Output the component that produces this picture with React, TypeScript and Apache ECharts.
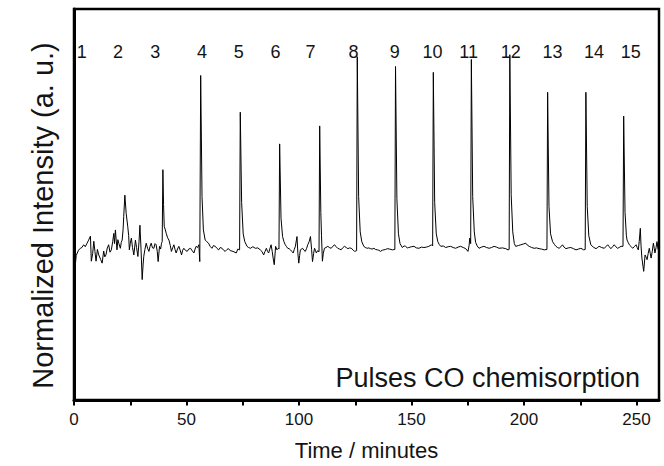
import React, { useEffect, useRef } from "react";
import * as echarts from "echarts";

// x tick labels (minutes) and axis range
const xTickStep = 25;
const xLabelStep = 50;
const xMax = 260;

// pulse labels across the top
const pulseLabels = ["1", "2", "3", "4", "5", "6", "7", "8", "9", "10", "11", "12", "13", "14", "15"];
const pulseLabelTimes = [3.4, 19.6, 36.1, 56.9, 73.2, 89.5, 105.1, 124.2, 142.5, 159.3, 175.4, 194.1, 212.7, 231.1, 247.5];
const pulseLabelLevel = 89.1;

// trace segments: [time (min), normalized intensity (a.u.)]
const traceStart: number[][] = [
  [0.4, 33.5], [1.0, 37.0], [2.0, 38.3], [2.8, 38.8], [3.5, 39.0], [4.3, 39.7], [5.0, 39.2], [5.8, 40.1],
  [6.5, 40.9], [7.3, 41.9], [7.7, 35.5], [8.3, 37.5], [8.8, 40.6], [9.3, 38.0], [9.8, 35.5], [10.4, 38.5],
  [11.0, 37.1], [11.8, 36.0], [12.5, 35.0], [13.2, 38.1], [13.7, 36.6], [14.2, 37.1], [14.8, 38.9], [15.4, 39.7],
  [16.0, 37.8], [16.6, 38.4], [17.2, 40.5], [17.7, 42.6], [18.0, 40.0], [18.4, 43.5], [19.1, 38.4], [19.5, 41.0],
  [19.9, 40.1], [20.6, 38.8], [21.0, 40.3], [21.4, 40.9], [21.8, 43.5], [22.1, 46.9], [22.6, 52.4], [23.2, 47.7],
  [23.9, 44.3], [24.3, 42.0], [24.6, 38.4], [25.0, 40.0], [25.5, 41.4], [26.0, 39.0], [26.6, 37.1], [27.3, 40.9],
  [27.8, 39.0], [28.4, 36.7], [28.9, 40.5], [29.3, 44.7], [29.8, 38.4], [30.3, 30.8], [30.7, 34.5], [31.0, 36.7],
  [31.5, 38.5], [32.1, 40.1], [32.7, 38.8], [33.3, 38.0], [33.8, 39.3], [34.3, 40.1], [34.9, 38.9], [35.5, 38.8],
  [36.0, 40.0], [36.5, 39.7], [37.0, 38.0], [37.4, 35.4], [38.0, 39.3], [38.5, 38.6], [38.9, 40.1], [39.2, 40.5],
];
const pulses3to4: number[][] = [
  [39.5, 58.9], [39.8, 50.0], [40.1, 44.4], [40.6, 43.5], [41.0, 42.6], [41.6, 41.5], [42.2, 40.9], [42.8, 39.5],
  [43.3, 38.0], [43.9, 39.0], [44.4, 39.7], [44.9, 38.5], [45.4, 37.6], [46.0, 38.6], [46.6, 39.3], [47.2, 38.3],
  [47.8, 37.1], [48.3, 38.3], [48.8, 38.8], [49.5, 38.3], [50.3, 38.0], [51.0, 38.6], [51.8, 38.8], [52.5, 38.2],
  [53.3, 37.6], [53.8, 38.6], [54.3, 39.3], [54.9, 39.0], [55.5, 39.7], [55.9, 35.4],
  [56.3, 83.0], [56.9, 52.0], [57.5, 43.5], [58.3, 40.9], [59.0, 40.5], [59.8, 40.1], [60.5, 39.3], [61.3, 38.8],
  [62.0, 39.5], [62.8, 39.3], [63.5, 38.8], [64.3, 38.4], [65.0, 39.0], [65.8, 38.8], [66.5, 38.3], [67.2, 38.0],
  [68.0, 38.5], [68.7, 38.7], [69.4, 38.2], [70.2, 38.1], [71.1, 37.9], [72.1, 37.6], [72.8, 38.6], [73.6, 38.4],
];
const pulses5to7: number[][] = [
  [73.9, 73.6], [74.5, 50.5], [75.2, 42.5], [75.9, 40.5], [76.9, 39.3], [77.6, 39.0], [78.4, 38.8], [79.5, 39.2],
  [80.6, 38.8], [81.7, 38.9], [82.8, 38.4], [83.5, 38.0], [84.3, 37.1], [84.9, 38.0], [85.5, 38.8], [86.0, 38.0],
  [86.5, 37.6], [87.0, 38.6], [87.6, 39.7], [88.1, 38.0], [88.5, 36.3], [89.0, 34.6], [89.6, 39.3], [90.2, 38.4],
  [90.8, 38.8], [91.1, 38.6],
  [91.4, 65.5], [92.0, 46.5], [92.7, 41.8], [93.3, 40.5], [93.9, 39.7], [94.5, 39.2], [95.0, 38.8], [95.6, 38.7],
  [96.2, 38.4], [96.8, 38.0], [97.4, 37.6], [97.9, 38.5], [98.4, 39.3], [99.1, 41.8], [99.5, 37.5], [99.9, 35.0],
  [100.3, 37.0], [100.6, 38.4], [101.6, 38.8], [102.2, 38.3], [102.8, 38.0], [103.4, 38.8], [103.9, 39.7], [104.5, 40.5],
  [105.1, 41.8], [105.6, 38.5], [106.0, 35.4], [106.5, 37.5], [106.9, 38.8], [107.3, 38.3], [107.7, 37.6], [108.3, 38.2],
  [108.9, 37.9],
  [109.2, 70.1], [109.7, 48.0], [110.0, 42.0], [110.4, 35.5], [110.8, 37.5], [111.3, 38.8], [112.0, 39.0], [112.8, 39.3],
  [113.5, 39.0], [114.3, 38.8], [115.0, 39.3], [115.8, 39.7], [116.5, 39.2], [117.2, 38.8], [118.0, 38.6], [118.7, 38.4],
  [119.4, 38.9], [120.2, 39.3], [121.0, 39.0], [121.7, 38.7], [122.5, 38.9], [123.2, 38.8], [124.0, 38.4], [124.7, 38.0],
  [125.6, 38.2],
];
const pulses8to10: number[][] = [
  [125.9, 87.8], [126.5, 52.0], [127.2, 43.0], [127.9, 40.5], [128.8, 39.3], [129.5, 39.0], [130.3, 38.8], [131.0, 38.9],
  [131.8, 38.7], [132.5, 38.6], [133.3, 38.8], [134.0, 38.5], [134.8, 38.4], [135.5, 38.3], [136.2, 38.0], [137.0, 38.3],
  [137.7, 38.4], [138.5, 38.5], [139.2, 38.7], [140.3, 38.6], [141.5, 38.4], [142.6, 38.5],
  [142.9, 85.3], [143.5, 51.5], [144.2, 42.5], [144.9, 40.0], [145.9, 39.0], [146.7, 39.4], [147.4, 39.3], [148.1, 38.9],
  [148.8, 39.0], [150.0, 39.2], [151.1, 39.3], [152.2, 38.9], [153.3, 38.8], [154.4, 39.1], [155.5, 39.0], [156.6, 39.1],
  [157.7, 39.3], [158.9, 39.7], [159.4, 39.4],
  [159.7, 83.8], [160.3, 50.5], [161.0, 42.5], [161.7, 40.5], [162.3, 39.8], [163.0, 39.3], [164.1, 39.4], [165.2, 39.0],
  [166.3, 39.2], [167.4, 39.3], [168.5, 39.0], [169.6, 38.8], [170.7, 39.1], [171.8, 39.3], [173.0, 39.0], [174.1, 38.7],
  [175.1, 38.0], [175.6, 39.5], [175.9, 41.4], [176.3, 40.0],
];
const pulses11to13: number[][] = [
  [176.6, 87.1], [177.2, 52.0], [177.9, 43.0], [178.5, 40.3], [179.2, 39.4], [180.0, 38.8], [181.1, 39.1], [182.2, 39.3],
  [183.4, 39.0], [184.5, 38.8], [185.6, 39.0], [186.7, 39.3], [187.8, 39.1], [188.9, 38.8], [190.4, 38.9], [191.9, 38.7],
  [192.9, 38.4], [193.4, 38.5],
  [193.7, 88.3], [194.3, 52.5], [195.0, 43.0], [195.7, 40.0], [196.3, 39.3], [197.5, 39.5], [198.6, 39.7], [199.7, 39.9],
  [200.8, 40.1], [201.5, 39.6], [202.3, 39.3], [203.4, 39.0], [204.5, 38.8], [205.6, 38.9], [206.7, 38.7], [207.8, 38.6],
  [209.0, 38.4], [210.2, 38.5],
  [210.5, 78.7], [211.1, 49.5], [211.8, 42.5], [212.7, 40.5], [213.5, 39.8], [214.2, 39.3], [214.9, 39.0], [215.6, 38.8],
  [216.4, 39.2], [217.1, 39.7], [217.8, 39.1], [218.6, 38.7], [219.7, 38.9], [220.8, 39.0], [222.0, 38.7], [223.1, 38.4],
  [224.2, 38.6], [225.3, 38.8], [226.5, 38.4], [227.2, 38.5],
];
const pulses14to15: number[][] = [
  [227.5, 78.7], [228.1, 49.5], [228.8, 42.0], [229.7, 39.7], [230.8, 39.1], [232.0, 38.7], [232.7, 39.0], [233.4, 39.3],
  [234.5, 39.0], [235.7, 38.8], [236.5, 39.3], [237.2, 39.7], [237.9, 39.2], [238.6, 38.7], [239.4, 39.2], [240.1, 39.7],
  [240.8, 39.2], [241.6, 38.8], [242.3, 39.0], [243.1, 39.3], [244.0, 39.3],
  [244.3, 72.6], [244.9, 48.0], [245.5, 42.0], [245.8, 40.9], [246.3, 40.3], [246.8, 39.7], [247.5, 39.3], [248.3, 38.8],
  [249.0, 39.2], [249.8, 39.7], [250.3, 39.0], [250.8, 38.4], [251.2, 40.5], [251.7, 43.9], [252.0, 39.5], [252.4, 36.3],
  [253.2, 32.9], [253.8, 37.1], [254.3, 36.5], [254.7, 35.9], [255.2, 37.5], [255.7, 38.8], [256.1, 37.5], [256.5, 36.3],
  [257.0, 38.0], [257.5, 40.1], [257.9, 38.8], [258.2, 37.6], [258.7, 39.0], [259.1, 40.5], [259.6, 38.5],
];

const FONT = "'Liberation Sans', Arial, Helvetica, sans-serif";
const INK = "#141414";

export default function App() {
  const ref = useRef<HTMLDivElement>(null);
  useEffect(() => {
    if (!ref.current) return;
    const chart = echarts.init(ref.current, null, { renderer: "svg" });
    const trace = [
      ...traceStart,
      ...pulses3to4,
      ...pulses5to7,
      ...pulses8to10,
      ...pulses11to13,
      ...pulses14to15,
    ];
    const labelData = pulseLabels.map((name, i) => ({
      name,
      value: [pulseLabelTimes[i], pulseLabelLevel],
    }));
    chart.setOption({
      animation: false,
      backgroundColor: "#ffffff",
      grid: {
        left: 74,
        right: 5,
        top: 9,
        bottom: 63,
        show: true,
        borderColor: "#000",
        borderWidth: 2.5,
        backgroundColor: "transparent",
      },
      xAxis: {
        type: "value",
        min: 0,
        max: xMax,
        interval: xTickStep,
        name: "Time / minutes",
        nameLocation: "middle",
        nameGap: 39,
        nameTextStyle: { fontSize: 22, color: INK, fontFamily: FONT },
        axisLine: { show: true, lineStyle: { color: "#000", width: 3 } },
        axisTick: { show: true, inside: false, length: 5.5, lineStyle: { color: "#000", width: 2 } },
        axisLabel: {
          fontSize: 17,
          color: INK,
          fontFamily: FONT,
          margin: 11,
          showMaxLabel: false,
          formatter: (v: number) => (v % xLabelStep === 0 ? String(v) : ""),
        },
        splitLine: { show: false },
      },
      yAxis: {
        type: "value",
        min: 0,
        max: 100,
        axisLine: { show: true, lineStyle: { color: "#000", width: 3 } },
        axisTick: { show: false },
        axisLabel: { show: false },
        splitLine: { show: false },
      },
      graphic: [
        {
          type: "text",
          x: 42.5,
          y: 215.5,
          rotation: Math.PI / 2,
          style: {
            text: "Normalized Intensity (a. u.)",
            fontSize: 29,
            fontFamily: FONT,
            fill: INK,
            align: "center",
            verticalAlign: "middle",
          },
        },
        {
          type: "text",
          x: 640,
          y: 378,
          style: {
            text: "Pulses CO chemisorption",
            fontSize: 27,
            fontFamily: FONT,
            fill: INK,
            align: "right",
            verticalAlign: "middle",
          },
        },
      ],
      series: [
        {
          type: "line",
          data: trace,
          showSymbol: false,
          symbol: "none",
          lineStyle: { color: "#000", width: 1 },
          z: 3,
        },
        {
          type: "scatter",
          data: labelData,
          symbolSize: 0,
          itemStyle: { color: "#000", opacity: 1 },
          label: {
            show: true,
            position: "inside",
            formatter: (p: any) => p.name,
            fontSize: 18,
            color: INK,
            opacity: 1,
            fontFamily: FONT,
          },
          emphasis: { disabled: true },
          z: 4,
        },
      ],
    });
    return () => chart.dispose();
  }, []);
  return (
    <div
      ref={ref}
      style={{ position: "fixed", left: 0, top: 0, width: 664, height: 466, background: "#fff" }}
    />
  );
}
